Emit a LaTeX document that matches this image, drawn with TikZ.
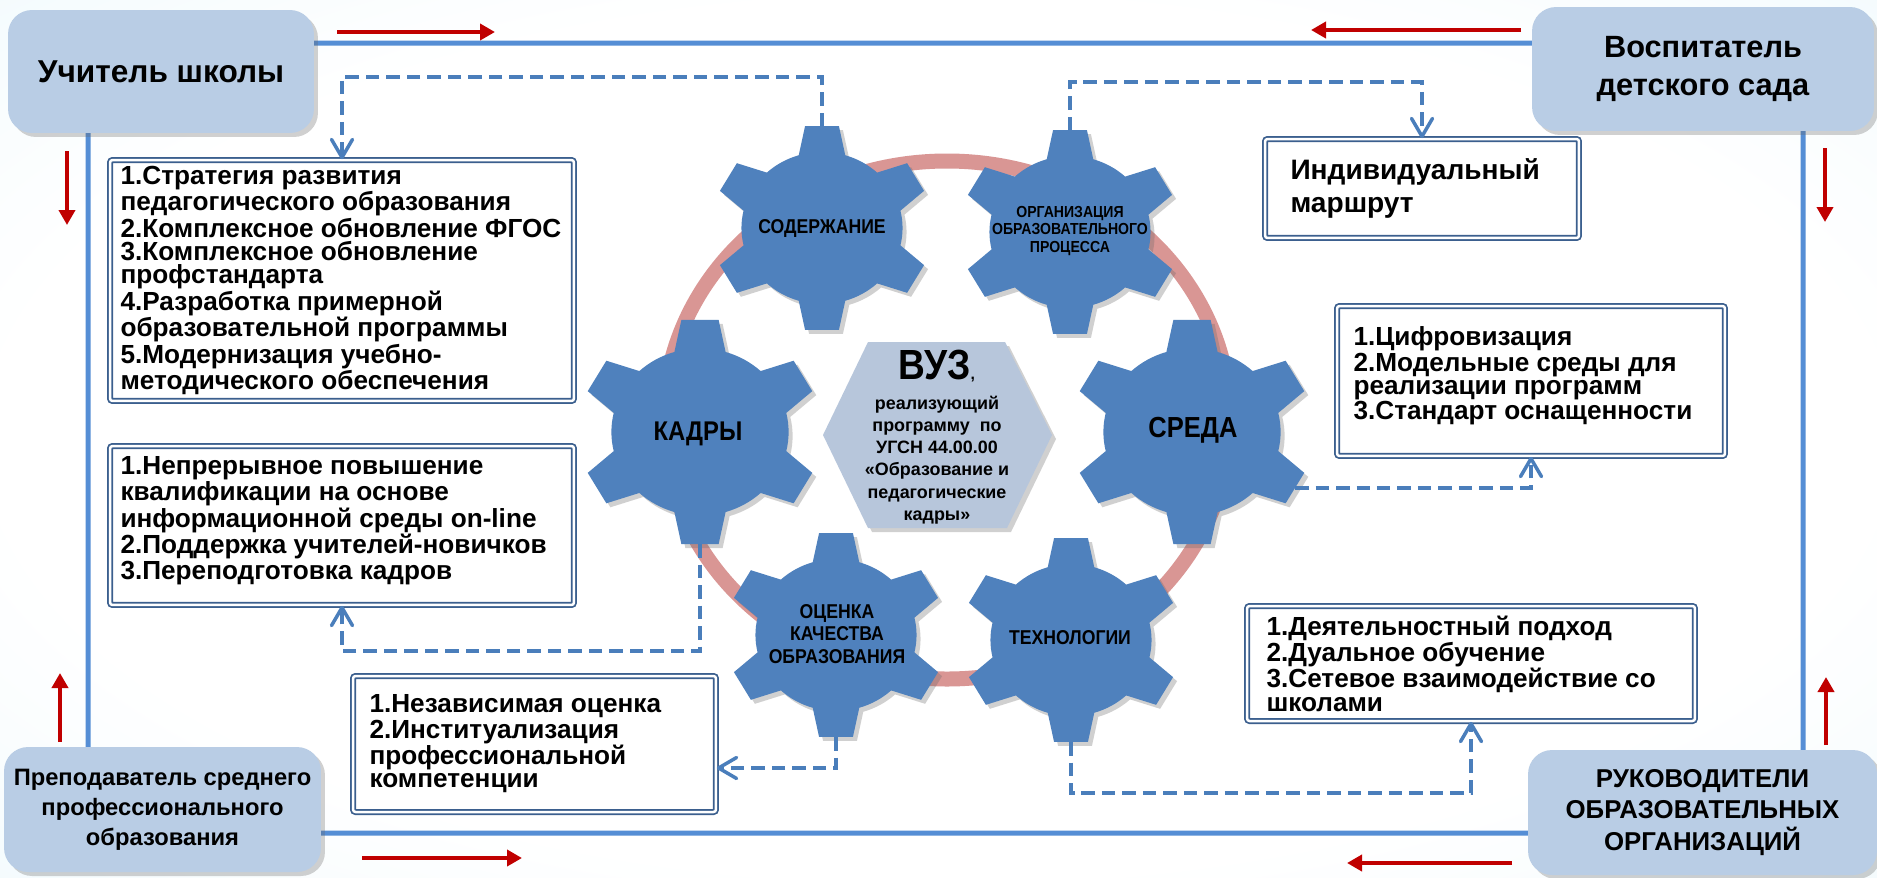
\documentclass[tikz,border=0pt]{standalone}
\usepackage{fontspec}
\setmainfont{Liberation Sans}
\newfontfamily\narrowfont[FakeStretch=0.88]{Liberation Sans}
\usetikzlibrary{arrows.meta,shadows}

\definecolor{bgcyan}{HTML}{DDF3FA}
\definecolor{frameblue}{HTML}{558ED5}
\definecolor{gearblue}{HTML}{4F81BD}
\definecolor{cornerblue}{HTML}{B9CDE5}
\definecolor{hexblue}{HTML}{B7C6DB}
\definecolor{boxblue}{HTML}{3B5F8E}
\definecolor{ringpink}{HTML}{D99694}
\definecolor{flowred}{HTML}{C00000}
\definecolor{dashblue}{HTML}{4A7EBB}

\pgfdeclareradialshading{bgshade}{\pgfpoint{0bp}{0bp}}{color(0bp)=(white); color(25bp)=(white); color(50bp)=(bgcyan!75!white); color(72bp)=(bgcyan)}

\tikzset{
  softshadow/.style={drop shadow={shadow xshift=0.08cm, shadow yshift=-0.08cm, opacity=0.3, fill=black!60}},
  cornerbox/.style={fill=cornerblue, rounded corners=0.48cm, softshadow, align=center, inner sep=0pt},
  listbox/.style={draw=boxblue, double=white, double distance=0.05cm, line width=0.035cm,
    fill=white, rounded corners=0.05cm, inner sep=0pt},
  listtext/.style={anchor=west, align=left, inner sep=0pt, font=\bfseries\fontsize{14.9}{13.2}\selectfont},
  gearlabel/.style={align=center, inner sep=0pt, font=\narrowfont\bfseries\fontsize{11.4}{12.8}\selectfont},
  dashlink/.style={dashblue, line width=0.07cm, dash pattern=on 0.27cm off 0.14cm,
    -{Straight Barb[length=0.36cm,width=0.42cm,round]}},
  flow/.style={flowred, line width=0.08cm, -{Triangle[width=0.32cm,length=0.3cm]}},
}

% gear: name, x, y, scale
\newcommand{\drawgear}[4]{%
  \begin{scope}[shift={(#2,#3)}, xscale=1.06*#4, yscale=#4]
    \fill[gearblue, softshadow] (46.8:76)
      \foreach \a in {90,150,...,390} {
        arc[start angle=\a-43.2, end angle=\a-16.8, radius=76]
        -- (\a-8.9:103.2) -- (\a+8.9:103.2) -- (\a+16.8:76)
      } -- cycle;
    \coordinate (#1-n) at (270:102);
    \coordinate (#1-s) at (90:102);
    \coordinate (#1-se) at (30:102);
  \end{scope}}

\begin{document}
\begin{tikzpicture}[x=0.02cm, y=-0.02cm]
  \useasboundingbox (0,0) rectangle (1877,877);
  \shade[shading=bgshade] (0,0) rectangle (1877,877);

  % outer frame and ring
  \draw[frameblue, line width=0.1cm, rounded corners=0.4cm] (88,43) rectangle (1803,833);
  \draw[ringpink, line width=0.3cm] (947,420) ellipse [x radius=283, y radius=259];

  % gears
  \drawgear{sod}{822}{228}{1}
  \drawgear{org}{1070}{232}{1}
  \drawgear{kadry}{700}{432}{1.1}
  \drawgear{sreda}{1192}{432}{1.1}
  \drawgear{ocenka}{836}{635}{1}
  \drawgear{tech}{1071}{640}{1}

  \node[gearlabel] (sod) at (822,228) {СОДЕРЖАНИЕ};
  \node[gearlabel, font=\narrowfont\bfseries\fontsize{9.1}{9.8}\selectfont] (org) at (1070,231)
    {ОРГАНИЗАЦИЯ\\ОБРАЗОВАТЕЛЬНОГО\\ПРОЦЕССА};
  \node[gearlabel, font=\narrowfont\bfseries\fontsize{15.4}{17}\selectfont] (kadry) at (698,434) {КАДРЫ};
  \node[gearlabel, font=\narrowfont\bfseries\fontsize{16.5}{18}\selectfont] (sreda) at (1193,430) {СРЕДА};
  \node[gearlabel] (ocenka) at (837,634) {ОЦЕНКА\\КАЧЕСТВА\\ОБРАЗОВАНИЯ};
  \node[gearlabel] (tech) at (1070,638) {ТЕХНОЛОГИИ};

  % centre
  \fill[hexblue, softshadow] (823,435) -- (868,342) -- (1005,342) -- (1052,435)
    -- (1007,528) -- (868,528) -- cycle;
  \node[align=center, inner sep=0pt, font=\bfseries\fontsize{10.2}{12.7}\selectfont] (vuz) at (937,437)
    {{\narrowfont\fontsize{24}{24}\selectfont ВУЗ}{\fontsize{9}{9}\selectfont,}\\[4.3pt]
     реализующий\\программу~ по\\УГСН 44.00.00\\«Образование и\\педагогические\\кадры»};

  % text boxes
  \node[listbox, minimum width=9.28cm, minimum height=4.82cm] (boxA) at (342,280.5) {};
  \node[listtext] at ([xshift=0.22cm]boxA.west)
    {1.Стратегия развития\\педагогического образования\\2.Комплексное обновление ФГОС\\
     3.Комплексное обновление\\профстандарта\\4.Разработка примерной\\
     образовательной программы\\5.Модернизация учебно-\\методического обеспечения};
  \node[listbox, minimum width=9.28cm, minimum height=3.18cm] (boxB) at (342,525.5) {};
  \node[listtext] at ([xshift=0.22cm, yshift=0.1cm]boxB.west)
    {1.Непрерывное повышение\\квалификации на основе\\информационной среды on-line\\
     2.Поддержка учителей-новичков\\3.Переподготовка кадров};
  \node[listbox, minimum width=7.26cm, minimum height=2.72cm] (boxC) at (534.5,744) {};
  \node[listtext] at ([xshift=0.34cm]boxC.west)
    {1.Независимая оценка\\2.Институализация\\профессиональной\\компетенции};
  \node[listbox, minimum width=6.28cm, minimum height=1.98cm] (boxD) at (1422,188.5) {};
  \node[listtext, font=\bfseries\fontsize{16}{18.8}\selectfont] at ([xshift=0.52cm]boxD.west)
    {Индивидуальный\\маршрут};
  \node[listbox, minimum width=7.76cm, minimum height=3cm] (boxE) at (1531,381) {};
  \node[listtext] at ([xshift=0.34cm, yshift=0.1cm]boxE.west)
    {1.Цифровизация\\2.Модельные среды для\\реализации программ\\3.Стандарт оснащенности};
  \node[listbox, minimum width=8.96cm, minimum height=2.3cm] (boxF) at (1471,663.5) {};
  \node[listtext] at ([xshift=0.4cm]boxF.west)
    {1.Деятельностный подход\\2.Дуальное обучение\\3.Сетевое взаимодействие со\\школами};

  % corner boxes
  \node[cornerbox, minimum width=6.12cm, minimum height=2.46cm,
    font=\bfseries\fontsize{18}{21}\selectfont] (teacher) at (161,71.5) {Учитель школы};
  \node[cornerbox, minimum width=6.84cm, minimum height=2.48cm,
    font=\bfseries\fontsize{17.5}{21.8}\selectfont] (tutor) at (1703,69) {Воспитатель\\детского сада};
  \node[cornerbox, minimum width=6.34cm, minimum height=2.5cm,
    font=\bfseries\fontsize{13.5}{17}\selectfont] (lecturer) at (162.5,809.5)
    {Преподаватель среднего\\профессионального\\образования};
  \node[cornerbox, minimum width=6.98cm, minimum height=2.5cm,
    font=\bfseries\fontsize{14.7}{18}\selectfont] (heads) at (1702.5,812.5)
    {РУКОВОДИТЕЛИ\\ОБРАЗОВАТЕЛЬНЫХ\\ОРГАНИЗАЦИЙ};

  % dashed links
  \draw[dashlink] (sod-n) -- ++(0,-49) -| (boxA.north);
  \draw[dashlink] (org-n) -- ++(0,-48) -| (boxD.north);
  \draw[dashlink] (kadry-s) -- ++(0,107) -| (boxB.south);
  \draw[dashlink] (ocenka-s) |- ([yshift=-0.48cm]boxC.east);
  \draw[dashlink] (tech-s) -- ++(0,51) -| (boxF.south);
  \draw[dashlink] (sreda-se) -| (boxE.south);

  % red arrows along the frame
  \foreach \xa/\ya/\xb/\yb in {337/32/495/32, 1521/30/1311/30, 67/151/67/225, 1825/148/1825/222,
      60/742/60/673, 1826/745/1826/677, 362/858/522/858, 1512/863/1347/863}
    \draw[flow] (\xa,\ya) -- (\xb,\yb);
\end{tikzpicture}
\end{document}
